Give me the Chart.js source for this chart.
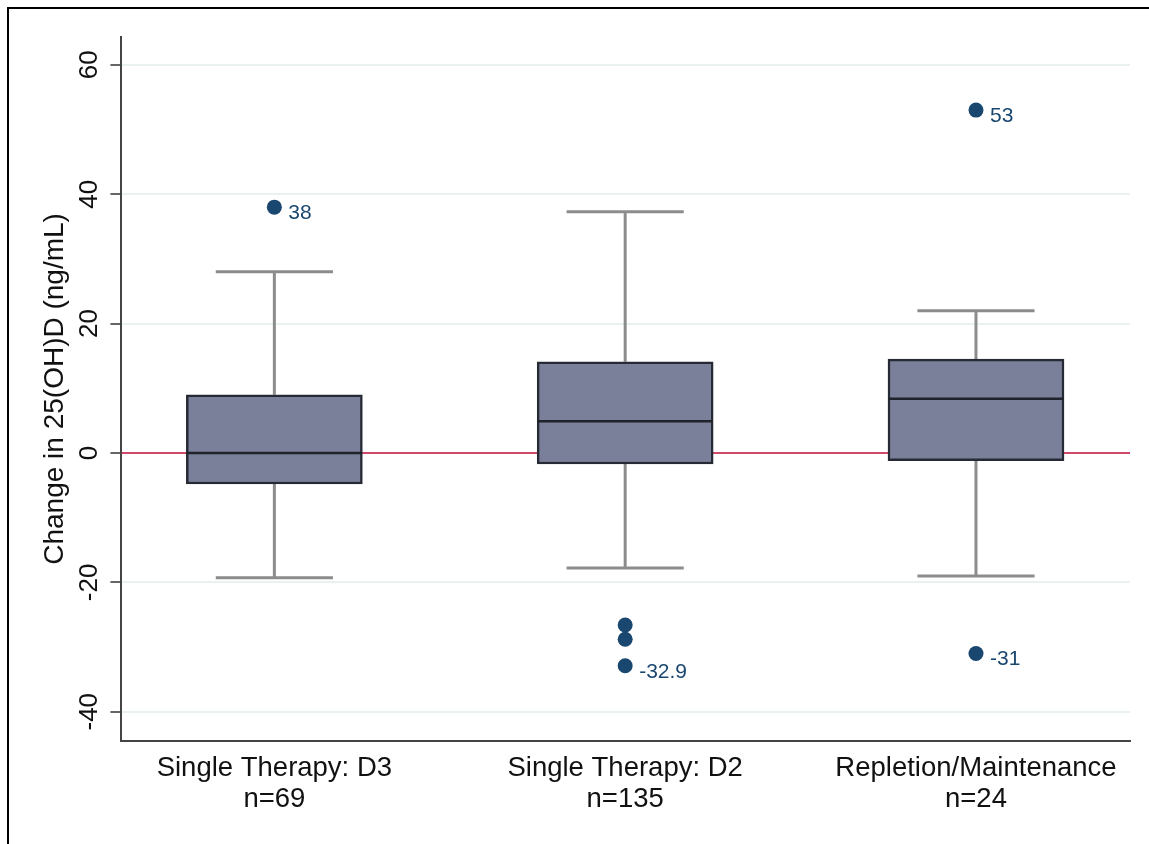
<!DOCTYPE html>
<html>
<head>
<meta charset="utf-8">
<script src="https://cdn.jsdelivr.net/npm/chart.js@4.4.1/dist/chart.umd.min.js"></script>
<style>
  html, body { margin: 0; padding: 0; background: #fff; }
  #wrap { position: relative; width: 1149px; height: 844px; }
  #frame { position: absolute; left: 7px; top: 7px; right: -10px; bottom: -10px;
           border-left: 2px solid #000; border-top: 2px solid #000; pointer-events: none; }
</style>
</head>
<body>
<div id="wrap">
  <canvas id="chart" width="1149" height="844"></canvas>
  <div id="frame"></div>
</div>
<script>
// data
const categories = ['Single Therapy: D3', 'Single Therapy: D2', 'Repletion/Maintenance'];
const counts = [69, 135, 24];
const whiskerLow = [-19.3, -17.8, -19.0];
const q1 = [-4.8, -1.7, -1.2];
const medians = [0, 4.9, 8.4];
const q3 = [9.0, 14.1, 14.5];
const whiskerHigh = [28.0, 37.3, 22.0];

// outliers: group number (1..3), value, printed label
const outlierGroup = [1, 2, 2, 2, 3, 3];
const outlierValues = [38, -26.6, -28.8, -32.9, 53, -31];
const outlierLabels = ['38', '', '', '-32.9', '53', '-31'];

const yTicks = [-40, -20, 0, 20, 40, 60];

const xMin = 0.564, xMax = 3.439;
const capHalf = 0.167, medHalf = 0.25;
const navy = '#1a476f';
const FONT = '"Liberation Sans", Arial, sans-serif';

// whisker segments (null point = gap)
const whiskerPts = [];
const medianPts = [];
categories.forEach((c, i) => {
  const x = i + 1;
  whiskerPts.push({x: x, y: q3[i]}, {x: x, y: whiskerHigh[i]}, {x: x, y: null});
  whiskerPts.push({x: x, y: q1[i]}, {x: x, y: whiskerLow[i]}, {x: x, y: null});
  whiskerPts.push({x: x - capHalf, y: whiskerHigh[i]}, {x: x + capHalf, y: whiskerHigh[i]}, {x: x, y: null});
  whiskerPts.push({x: x - capHalf, y: whiskerLow[i]}, {x: x + capHalf, y: whiskerLow[i]}, {x: x, y: null});
  medianPts.push({x: x - medHalf, y: medians[i]}, {x: x + medHalf, y: medians[i]}, {x: x, y: null});
});

// text next to the outlier dots
const outlierText = {
  id: 'outlierText',
  afterDatasetsDraw(chart) {
    const meta = chart.getDatasetMeta(4);
    const ctx = chart.ctx;
    ctx.save();
    ctx.font = '21px ' + FONT;
    ctx.fillStyle = navy;
    ctx.textBaseline = 'middle';
    meta.data.forEach((pt, i) => {
      if (outlierLabels[i]) ctx.fillText(outlierLabels[i], pt.x + 14, pt.y + 6);
    });
    ctx.restore();
  }
};

new Chart(document.getElementById('chart'), {
  type: 'bar',
  data: {
    datasets: [
      {
        type: 'line',
        data: [{x: xMin, y: 0}, {x: xMax, y: 0}],
        borderColor: '#c8103c',
        borderWidth: 1.5,
        pointRadius: 0,
        order: 10
      },
      {
        type: 'line',
        data: whiskerPts,
        borderColor: '#8c8c8c',
        borderWidth: 3,
        pointRadius: 0,
        spanGaps: false,
        order: 9
      },
      {
        type: 'bar',
        data: categories.map((c, i) => ({x: i + 1, y: [q1[i], q3[i]]})),
        backgroundColor: '#7a8099',
        borderColor: '#262a34',
        borderWidth: 2.5,
        borderSkipped: false,
        barThickness: 176,
        grouped: false,
        order: 5
      },
      {
        type: 'line',
        data: medianPts,
        borderColor: '#1f222b',
        borderWidth: 2.5,
        pointRadius: 0,
        spanGaps: false,
        order: 4
      },
      {
        type: 'scatter',
        data: outlierValues.map((v, i) => ({x: outlierGroup[i], y: v})),
        backgroundColor: navy,
        borderWidth: 0,
        pointRadius: 7.5,
        order: 1
      }
    ]
  },
  options: {
    responsive: false,
    animation: false,
    events: [],
    layout: { padding: { top: 37, right: 19, left: 4, bottom: 25 } },
    plugins: { legend: { display: false }, tooltip: { enabled: false } },
    scales: {
      x: {
        type: 'linear',
        min: xMin,
        max: xMax,
        offset: false,
        afterBuildTicks: (s) => { s.ticks = [1, 2, 3].map(v => ({value: v})); },
        grid: { display: false },
        border: { display: true, color: '#444', width: 2 },
        ticks: {
          autoSkip: false,
          maxRotation: 0,
          padding: 4,
          color: '#111',
          font: { family: FONT, size: 27.5, lineHeight: 1.13 },
          callback: (v) => [categories[v - 1], 'n=' + counts[v - 1]]
        }
      },
      y: {
        min: -44.5,
        max: 64.3,
        afterBuildTicks: (s) => { s.ticks = yTicks.map(v => ({value: v})); },
        grid: { color: '#eaf1f1', lineWidth: 2, tickColor: '#666', tickLength: 11, tickWidth: 2 },
        border: { display: true, color: '#444', width: 2 },
        ticks: {
          minRotation: 90,
          maxRotation: 90,
          crossAlign: 'center',
          padding: 2,
          color: '#111',
          font: { family: FONT, size: 26 }
        },
        title: {
          display: true,
          text: 'Change in 25(OH)D (ng/mL)',
          color: '#111',
          padding: { top: 34.2, bottom: 3.4 },
          font: { family: FONT, size: 28 }
        }
      }
    }
  },
  plugins: [outlierText]
});
</script>
</body>
</html>
